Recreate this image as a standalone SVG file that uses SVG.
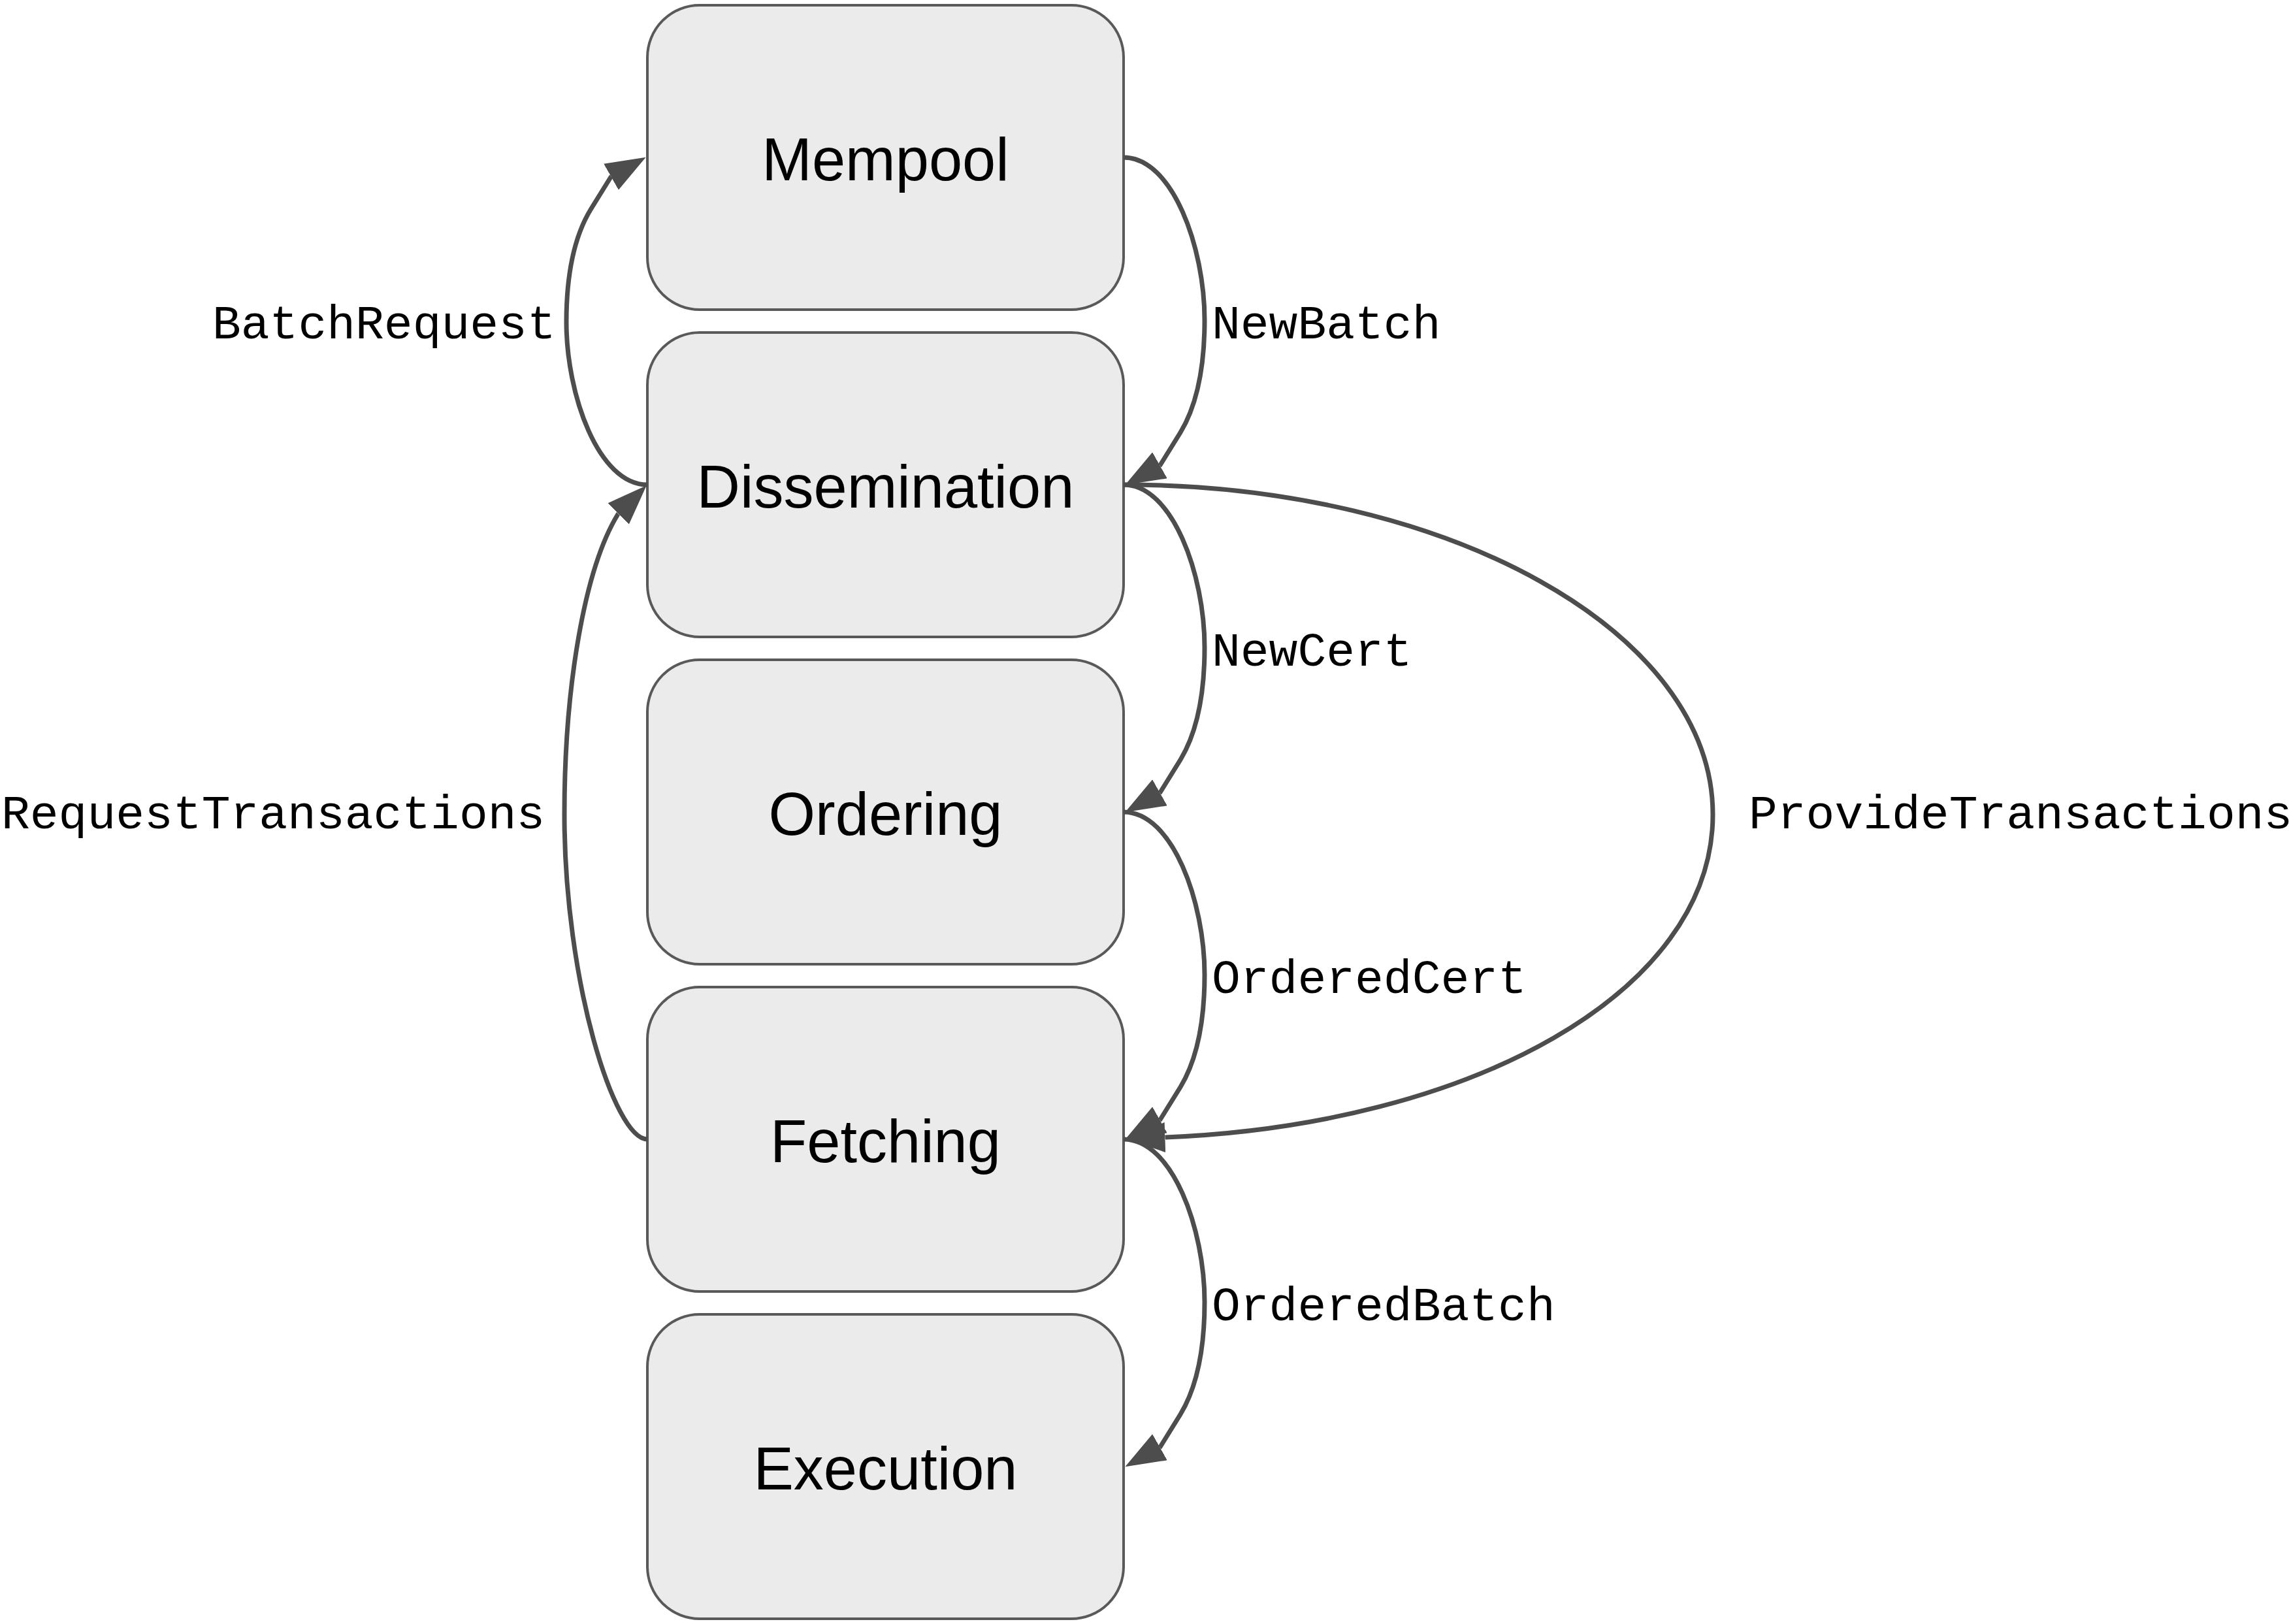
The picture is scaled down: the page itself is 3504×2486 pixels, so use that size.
<svg xmlns="http://www.w3.org/2000/svg" width="3504" height="2486" viewBox="0 0 3504 2486">
  <style>
    .box { fill: #ebebeb; stroke: #595959; stroke-width: 4; }
    .title { font-family: "Liberation Sans", Arial, sans-serif; font-size: 92px; fill: #000; text-anchor: middle; }
    .edge { fill: none; stroke: #4d4d4d; stroke-width: 7; stroke-linejoin: round; marker-end: url(#arrow); }
    .lbl { font-family: "Liberation Mono", "Courier New", monospace; font-size: 73px; fill: #000; }
  </style>
  <defs>
    <marker id="arrow" markerUnits="userSpaceOnUse" markerWidth="62" markerHeight="46" viewBox="0 0 62 46" refX="0" refY="23" orient="auto">
      <path d="M0,0 L61,23 L0,46 z" fill="#4d4d4d"/>
    </marker>
  </defs>
  <rect width="3504" height="2486" fill="#ffffff"/>

  <g id="node-mempool">
    <rect class="box" x="991" y="8" width="729" height="466" rx="80" ry="80"/>
    <text class="title" x="1355.5" y="276">Mempool</text>
  </g>
  <g id="node-dissemination">
    <rect class="box" x="991" y="509" width="729" height="466" rx="80" ry="80"/>
    <text class="title" x="1355.5" y="777">Dissemination</text>
  </g>
  <g id="node-ordering">
    <rect class="box" x="991" y="1010" width="729" height="466" rx="80" ry="80"/>
    <text class="title" x="1355.5" y="1278">Ordering</text>
  </g>
  <g id="node-fetching">
    <rect class="box" x="991" y="1511" width="729" height="466" rx="80" ry="80"/>
    <text class="title" x="1355.5" y="1779">Fetching</text>
  </g>
  <g id="node-execution">
    <rect class="box" x="991" y="2012" width="729" height="466" rx="80" ry="80"/>
    <text class="title" x="1355.5" y="2280">Execution</text>
  </g>

  <g id="connectors">
    <!-- NewBatch: Mempool -> Dissemination -->
    <path class="edge" d="M1720,241 C1795,241 1844,379 1844,490 C1844,569 1830,624 1807,662 L1776,712 l-0.53,0.3"/>
    <!-- NewCert: Dissemination -> Ordering -->
    <path class="edge" d="M1720,742 C1795,742 1844,880 1844,991 C1844,1070 1830,1125 1807,1163 L1776,1213 l-0.53,0.3"/>
    <!-- OrderedCert: Ordering -> Fetching -->
    <path class="edge" d="M1720,1243 C1795,1243 1844,1381 1844,1492 C1844,1571 1830,1626 1807,1664 L1776,1714 l-0.53,0.3"/>
    <!-- OrderedBatch: Fetching -> Execution -->
    <path class="edge" d="M1720,1744 C1795,1744 1844,1882 1844,1993 C1844,2072 1830,2127 1807,2165 L1776,2215 l-0.53,0.3"/>
    <!-- BatchRequest: Dissemination -> Mempool -->
    <path class="edge" d="M991,742 C916,742 867,604 867,493 C867,414 881,359 904,321 L935,271 l0.53,-0.3"/>
    <!-- RequestTransactions: Fetching -> Dissemination -->
    <path class="edge" d="M991,1744 C940,1744 864,1500 864,1247 C864,1050 895,870 946,787 l0.5,-0.5"/>
    <!-- ProvideTransactions: Dissemination -> Fetching -->
    <path class="edge" d="M1720,742 C2218,742 2622,968 2622,1247 C2622,1520 2250,1722 1784,1741 l-0.6,0.02"/>

    <text class="lbl" x="1855" y="518">NewBatch</text>
    <text class="lbl" x="1855" y="1019">NewCert</text>
    <text class="lbl" x="1855" y="1520">OrderedCert</text>
    <text class="lbl" x="1855" y="2021">OrderedBatch</text>
    <text class="lbl" x="325" y="518">BatchRequest</text>
    <text class="lbl" x="2" y="1268">RequestTransactions</text>
    <text class="lbl" x="2677" y="1268">ProvideTransactions</text>
  </g>
</svg>
